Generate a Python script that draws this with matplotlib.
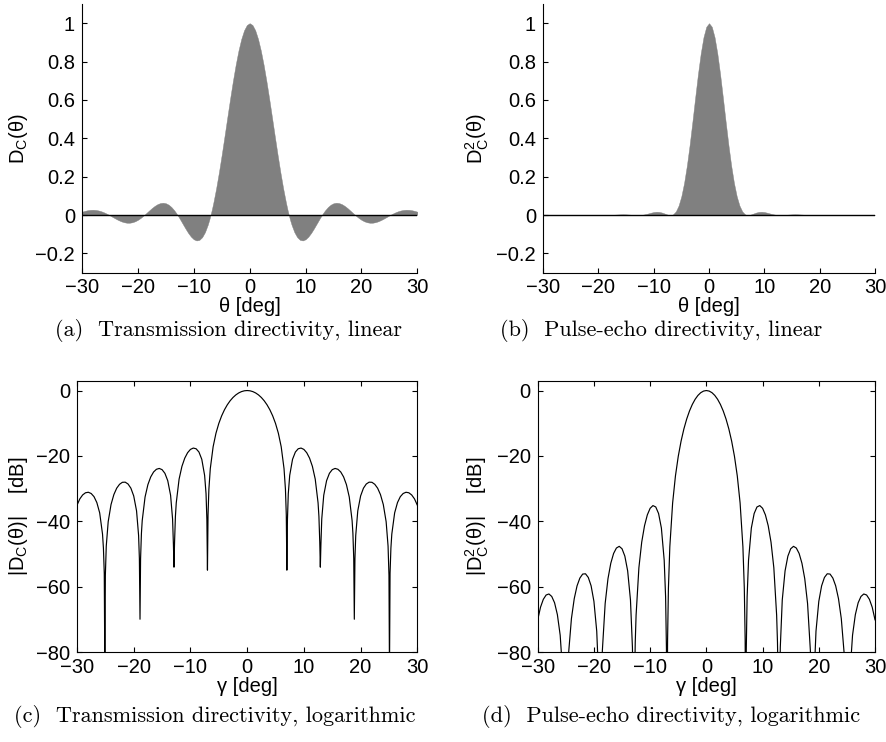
import numpy as np
import matplotlib
matplotlib.use("Agg")
import matplotlib.pyplot as plt

#-- Data: circular piston directivity D_C(theta), read for theta >= 0 (curve is symmetric)
theta_half = [0.0, 0.5, 1.0, 1.5, 2.0, 2.5, 3.0, 3.5, 4.0, 4.5, 5.0, 5.5, 6.0, 6.5,
              6.75, 6.9, 7.0, 7.1, 7.25, 7.5, 8.0, 8.5, 9.0, 9.5, 10.0, 10.5, 11.0,
              11.5, 12.0, 12.5, 12.65, 12.8, 12.9, 13.0, 13.15, 13.5, 14.0, 14.5,
              15.0, 15.5, 16.0, 16.5, 17.0, 17.5, 18.0, 18.5, 18.64, 18.79, 18.89,
              19.0, 19.14, 19.5, 20.0, 20.5, 21.0, 21.5, 22.0, 22.5, 23.0, 23.5,
              24.0, 24.5, 24.84, 25.0, 25.09, 25.19, 25.34, 25.5, 26.0, 26.5, 27.0,
              27.5, 28.0, 28.5, 29.0, 29.5, 30.0]
dc_half = [1.0, 0.9906, 0.9629, 0.9178, 0.8571, 0.7829, 0.6981, 0.6055, 0.5085, 0.4102,
           0.3139, 0.2225, 0.1384, 0.0640, 0.0308, 0.0124, 0.0018, -0.0106, -0.0265,
           -0.0505, -0.0890, -0.1149, -0.1289, -0.1321, -0.1260, -0.1122, -0.0927,
           -0.0694, -0.0443, -0.0192, -0.0119, -0.0048, -0.0020, 0.0044, 0.0109,
           0.0251, 0.0419, 0.0543, 0.0618, 0.0645, 0.0626, 0.0569, 0.0479, 0.0365,
           0.0236, 0.0103, 0.0066, 0.0027, 0.00032, -0.0027, -0.0061, -0.0145,
           -0.0245, -0.0322, -0.0373, -0.0398, -0.0396, -0.0369, -0.0322, -0.0257,
           -0.0181, -0.0099, -0.0042, -0.0015, -0.00005, 0.0016, 0.0039, 0.0064,
           0.0135, 0.0194, 0.0239, 0.0267, 0.0279, 0.0274, 0.0254, 0.0221, 0.0177]

xticks = [-30, -20, -10, 0, 10, 20, 30]
xtick_labels = ["\u221230", "\u221220", "\u221210", "0", "10", "20", "30"]
lin_yticks = [-0.2, 0, 0.2, 0.4, 0.6, 0.8, 1]
lin_ytick_labels = ["\u22120.2", "0", "0.2", "0.4", "0.6", "0.8", "1"]
db_yticks = [-80, -60, -40, -20, 0]
db_ytick_labels = ["\u221280", "\u221260", "\u221240", "\u221220", "0"]
captions = ["(a)  Transmission directivity, linear",
            "(b)  Pulse-echo directivity, linear",
            "(c)  Transmission directivity, logarithmic",
            "(d)  Pulse-echo directivity, logarithmic"]

#-- Build full curves (mirror) and derived quantities
th = np.array(theta_half)
d = np.array(dc_half)
theta = np.concatenate([-th[:0:-1], th])
dc = np.concatenate([d[:0:-1], d])
pe = dc**2
dc_db = 20*np.log10(np.abs(dc))
pe_db = 20*np.log10(pe)

plt.rcParams['font.family'] = ['Liberation Sans', 'DejaVu Sans']
plt.rcParams['font.size'] = 14.5
plt.rcParams['axes.linewidth'] = 0.8
plt.rcParams['xtick.direction'] = 'in'
plt.rcParams['ytick.direction'] = 'in'
plt.rcParams['xtick.major.size'] = 3.5
plt.rcParams['ytick.major.size'] = 3.5
plt.rcParams['xtick.major.width'] = 0.8
plt.rcParams['ytick.major.width'] = 0.8
plt.rcParams['xtick.major.pad'] = 4
plt.rcParams['ytick.major.pad'] = 5

fig = plt.figure(figsize=(8.87, 7.42), dpi=100)
ax_a = fig.add_axes([0.0924, 0.6325, 0.3781, 0.3621])
ax_b = fig.add_axes([0.6122, 0.6325, 0.3743, 0.3621])
ax_c = fig.add_axes([0.0868, 0.1209, 0.3837, 0.3660])
ax_d = fig.add_axes([0.6062, 0.1209, 0.3803, 0.3660])

gray = '#808080'

# linear panels
for ax, y, lab in [(ax_a, dc, r'$\mathregular{D_C(θ)}$'),
                   (ax_b, pe, r'$\mathregular{D_C^2(θ)}$')]:
    ax.fill_between(theta, y, 0, color=gray, lw=0.3, edgecolor=gray)
    ax.axhline(0, color='k', lw=1.0)
    ax.set_xlim(-30, 30)
    ax.set_ylim(-0.3, 1.1)
    ax.set_xticks(xticks)
    ax.set_xticklabels(xtick_labels)
    ax.set_yticks(lin_yticks)
    ax.set_yticklabels(lin_ytick_labels)
    ax.spines['top'].set_visible(False)
    ax.spines['right'].set_visible(False)
    ax.set_xlabel('θ [deg]', labelpad=0)
    ax.set_ylabel(lab, labelpad=4)

# logarithmic panels
for ax, y, lab in [(ax_c, dc_db, r'$\mathregular{|D_C(θ)|}$    [dB]'),
                   (ax_d, pe_db, r'$\mathregular{|D_C^2(θ)|}$    [dB]')]:
    ax.plot(theta, y, color='k', lw=0.85)
    ax.set_xlim(-30, 30)
    ax.set_ylim(-80, 3)
    ax.set_xticks(xticks)
    ax.set_xticklabels(xtick_labels)
    ax.set_yticks(db_yticks)
    ax.set_yticklabels(db_ytick_labels)
    ax.tick_params(top=True, right=True)
    ax.set_xlabel('γ [deg]', labelpad=0)
    ax.set_ylabel(lab, labelpad=4)

cap_x = [0.258, 0.745, 0.2424, 0.7565]
cap_y = [0.555, 0.555, 0.035, 0.035]
for t, cx, cy in zip(captions, cap_x, cap_y):
    fig.text(cx, cy, t, family='cmr10', fontsize=16, ha='center', va='center')

fig.savefig('out.png', dpi=100)
